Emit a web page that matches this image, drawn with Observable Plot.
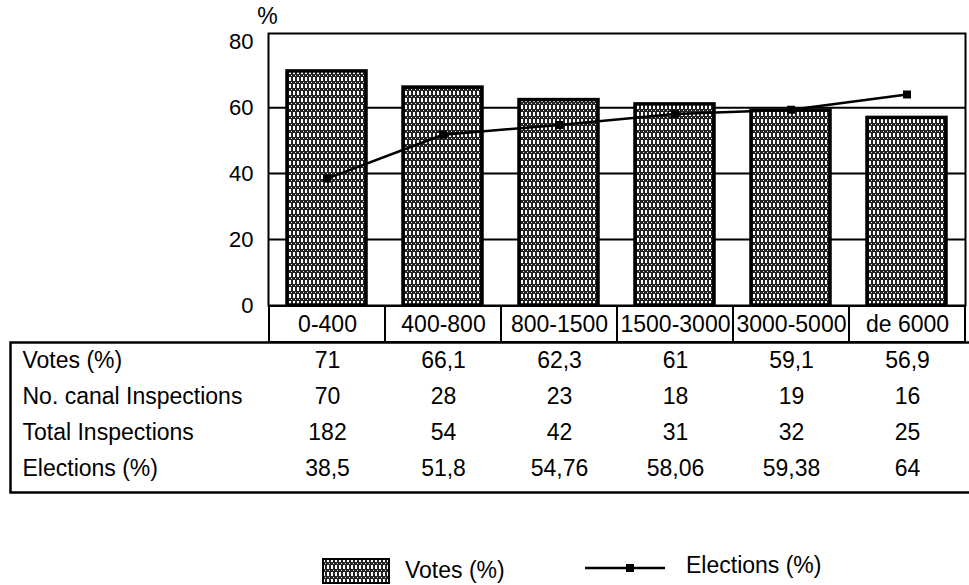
<!DOCTYPE html>
<html><head><meta charset="utf-8">
<script src="https://cdn.jsdelivr.net/npm/d3@7"></script>
<script src="https://cdn.jsdelivr.net/npm/@observablehq/plot@0.6"></script>
<style>
html,body{margin:0;padding:0;background:#fff;}
body{width:969px;height:585px;overflow:hidden;font-family:"Liberation Sans",Arial,Helvetica,sans-serif;color:#000;}
svg{display:block;}
#legend{position:relative;height:90px;font-size:23px;}
#legend .item{position:absolute;display:flex;align-items:center;white-space:nowrap;}
</style></head><body>
<div id="chart"></div>
<div id="table"></div>
<div id="legend"></div>
<script>
// ---- data ----
const categories = ["0-400", "400-800", "800-1500", "1500-3000", "3000-5000", "de 6000"];
const votes = [71, 66.1, 62.3, 61, 59.1, 56.9];
const canalInspections = [70, 28, 23, 18, 19, 16];
const totalInspections = [182, 54, 42, 31, 32, 25];
const elections = [38.5, 51.8, 54.76, 58.06, 59.38, 64];
const rowLabels = ["Votes (%)", "No. canal Inspections", "Total Inspections", "Elections (%)"];
const yTicks = [0, 20, 40, 60, 80];
const gridValues = [20, 40, 60];
const seriesNames = ["Votes (%)", "Elections (%)"];
const yUnit = "%";

// ---- layout ----
const W = 969, ML = 268, MR = 4;
const step = (W - ML - MR) / categories.length;
const font = "Liberation Sans, Arial, Helvetica, sans-serif";
const style = {fontFamily: font, color: "#000", background: "#fff", overflow: "visible"};

const chartData = categories.map((c, i) => ({category: c, votes: votes[i], elections: elections[i]}));

const chart = Plot.plot({
  width: W, height: 305, marginLeft: ML, marginRight: MR, marginTop: 33, marginBottom: 0,
  style: {...style, fontSize: "22px"},
  x: {domain: categories, paddingInner: 0.32, paddingOuter: 0.16, axis: null},
  y: {domain: [0, 82.5], axis: null},
  marks: [
    Plot.ruleY(gridValues, {stroke: "#000", strokeWidth: 2}),
    Plot.barY(chartData, {x: "category", y: "votes", fill: "url(#stipple)", stroke: "#000", strokeWidth: 3.5}),
    Plot.line(chartData, {x: "category", y: "elections", stroke: "#000", strokeWidth: 2.5}),
    Plot.dot(chartData, {x: "category", y: "elections", symbol: "square", r: 4.5, fill: "#000", stroke: "none"}),
    Plot.frame({stroke: "#000", strokeWidth: 2}),
    Plot.axisY(yTicks, {tickSize: 0, tickPadding: 15, fontSize: 22, label: null}),
    Plot.text([yUnit], {frameAnchor: "top-left", textAnchor: "middle", dx: -1, dy: -26, text: d => d, fontSize: 23})
  ]
});

// stipple pattern for the bars
const defs = d3.select(chart).insert("defs", ":first-child");
const pat = defs.append("pattern").attr("id", "stipple")
  .attr("patternUnits", "userSpaceOnUse").attr("width", 4).attr("height", 7);
pat.append("rect").attr("width", 4).attr("height", 7).attr("fill", "#242424");
pat.append("rect").attr("x", 1).attr("y", 0).attr("width", 2).attr("height", 4).attr("fill", "#fff");
pat.append("rect").attr("x", 3).attr("y", 5).attr("width", 1).attr("height", 1).attr("fill", "#ddd");
document.getElementById("chart").appendChild(chart);

// ---- table ----
const rows = [votes, canalInspections, totalInspections, elections];
const fmt = v => String(v).replace(".", ",");
const cellData = rowLabels.flatMap((r, j) => categories.map((c, i) => ({row: r, category: c, value: fmt(rows[j][i])})));
const headerKey = " ";
const bandH = 36;

const table = Plot.plot({
  width: W, height: 1 + bandH * 5 + 8, marginLeft: ML, marginRight: MR, marginTop: 1, marginBottom: 8,
  style: {...style, fontSize: "23px"},
  x: {domain: categories, padding: 0, axis: null},
  y: {domain: [headerKey, ...rowLabels], padding: 0, axis: null},
  marks: [
    Plot.cell(categories, {x: d => d, y: () => headerKey, fill: "#fff", stroke: "#000", strokeWidth: 2}),
    Plot.text(categories, {x: d => d, y: () => headerKey, text: d => d, fontSize: 23}),
    Plot.frame({insetTop: bandH, insetLeft: -(ML - 10), insetRight: -8, insetBottom: -6, stroke: "#000", strokeWidth: 2.5}),
    Plot.ruleX(cellData, {x: "category", y: "row", dx: -step / 2, stroke: "#000", strokeWidth: 2}),
    Plot.text(cellData, {x: "category", y: "row", text: "value", fontSize: 23}),
    Plot.text(rowLabels, {y: d => d, frameAnchor: "left", textAnchor: "start", dx: -(ML - 22), text: d => d, fontSize: 23})
  ]
});
document.getElementById("table").appendChild(table);

// ---- legend ----
const legend = d3.select("#legend");
const item1 = legend.append("div").attr("class", "item").style("left", "322px").style("top", "63px");
const sw1 = item1.append("svg").attr("width", 68).attr("height", 26);
sw1.append("rect").attr("x", 1).attr("y", 1).attr("width", 66).attr("height", 24)
  .attr("fill", "url(#stipple)").attr("stroke", "#000").attr("stroke-width", 2);
item1.append("span").style("margin-left", "15px").text(seriesNames[0]);

const item2 = legend.append("div").attr("class", "item").style("left", "585px").style("top", "58px");
const sw2 = item2.append("svg").attr("width", 82).attr("height", 26);
sw2.append("line").attr("x1", 0).attr("x2", 80).attr("y1", 15).attr("y2", 15).attr("stroke", "#000").attr("stroke-width", 2.5);
sw2.append("rect").attr("x", 41).attr("y", 11).attr("width", 8).attr("height", 8).attr("fill", "#000");
item2.append("span").style("margin-left", "19px").text(seriesNames[1]);
</script>
</body></html>
